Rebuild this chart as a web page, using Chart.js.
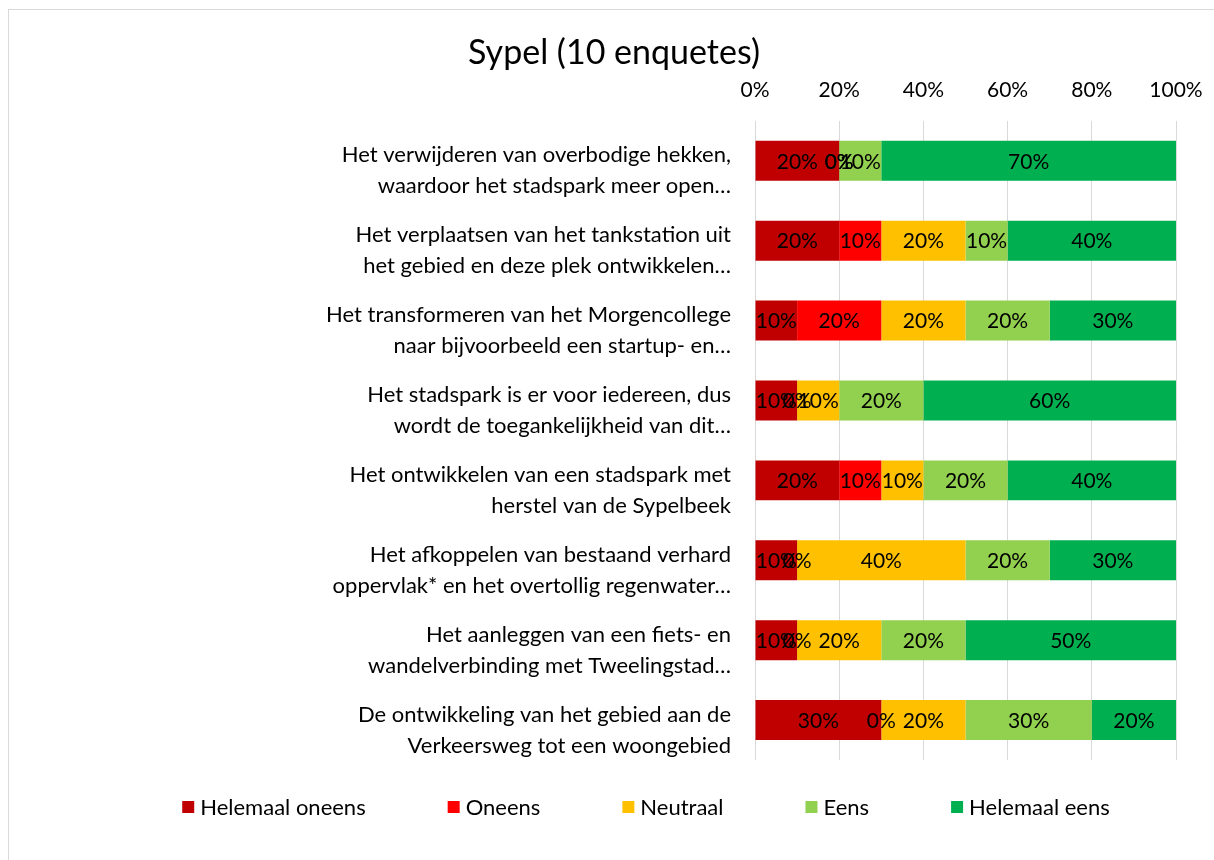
<!DOCTYPE html>
<html>
<head>
<meta charset="utf-8">
<script src="https://cdn.jsdelivr.net/npm/chart.js@4/dist/chart.umd.min.js"></script>
<style>
  html, body { margin: 0; padding: 0; background: #fff; }
  #frame { position: absolute; left: 8px; top: 9px; width: 1300px; height: 900px; border: 1px solid #d9d9d9; }
  #wrap { position: absolute; left: 0; top: 0; width: 1214px; height: 860px; }
</style>
</head>
<body>
<div id="frame"></div>
<div id="wrap"><canvas id="chart"></canvas></div>
<script>
const categories = [
  ['Het verwijderen van overbodige hekken,', 'waardoor het stadspark meer open…'],
  ['Het verplaatsen van het tankstation uit', 'het gebied en deze plek ontwikkelen…'],
  ['Het transformeren van het Morgencollege', 'naar bijvoorbeeld een startup- en…'],
  ['Het stadspark is er voor iedereen, dus', 'wordt de toegankelijkheid van dit…'],
  ['Het ontwikkelen van een stadspark met', 'herstel van de Sypelbeek'],
  ['Het afkoppelen van bestaand verhard', 'oppervlak* en het overtollig regenwater…'],
  ['Het aanleggen van een fiets- en', 'wandelverbinding met Tweelingstad…'],
  ['De ontwikkeling van het gebied aan de', 'Verkeersweg tot een woongebied']
];
const seriesNames = ['Helemaal oneens', 'Oneens', 'Neutraal', 'Eens', 'Helemaal eens'];
const seriesColors = ['#C00000', '#FF0000', '#FFC000', '#92D050', '#00B050'];
const helemaalOneens = [20, 20, 10, 10, 20, 10, 10, 30];
const oneens         = [0, 10, 20, 0, 10, 0, 0, 0];
const neutraal       = [0, 20, 20, 10, 10, 40, 20, 20];
const eens           = [10, 10, 20, 20, 20, 20, 20, 30];
const helemaalEens   = [70, 40, 30, 60, 40, 30, 50, 20];
const xTicks = [0, 20, 40, 60, 80, 100];

const FONT = 'Lato, "Liberation Sans", sans-serif';

const seriesValues = [helemaalOneens, oneens, neutraal, eens, helemaalEens];
const datasets = seriesNames.map((name, i) => ({
  label: name,
  data: seriesValues[i],
  backgroundColor: seriesColors[i],
  borderWidth: 0,
  barPercentage: 0.5,
  categoryPercentage: 1
}));

// data labels in the middle of each segment
const segmentLabels = {
  id: 'segmentLabels',
  afterDatasetsDraw(chart) {
    const ctx = chart.ctx;
    ctx.save();
    ctx.font = '21px ' + FONT;
    ctx.fillStyle = '#000';
    ctx.textAlign = 'center';
    ctx.textBaseline = 'middle';
    chart.data.datasets.forEach((ds, di) => {
      chart.getDatasetMeta(di).data.forEach((bar, i) => {
        const v = ds.data[i];
        if (v === null || v === undefined) return;
        const c = bar.getCenterPoint();
        ctx.fillText(v + '%', c.x, c.y + 1);
      });
    });
    ctx.restore();
  }
};

// legend row with wide gaps like the original
const wideLegend = {
  id: 'wideLegend',
  afterDraw(chart) {
    const ctx = chart.ctx;
    const box = 12, gapText = 6, gap = 82, centerX = 646, y = 807;
    ctx.save();
    ctx.font = '22px ' + FONT;
    ctx.textBaseline = 'middle';
    const widths = chart.data.datasets.map(ds => box + gapText + ctx.measureText(ds.label).width);
    const total = widths.reduce((a, b) => a + b, 0) + gap * (widths.length - 1);
    let x = centerX - total / 2;
    chart.data.datasets.forEach((ds, i) => {
      ctx.fillStyle = ds.backgroundColor;
      ctx.fillRect(x, y - box / 2, box, box);
      ctx.fillStyle = '#000';
      ctx.fillText(ds.label, x + box + gapText, y + 1);
      x += widths[i] + gap;
    });
    ctx.restore();
  }
};

new Chart(document.getElementById('chart').getContext('2d'), {
  type: 'bar',
  data: { labels: categories, datasets: datasets },
  options: {
    indexAxis: 'y',
    responsive: true,
    maintainAspectRatio: false,
    animation: false,
    layout: { padding: { left: 52, right: 38, top: 0, bottom: 100 } },
    scales: {
      x: {
        position: 'top',
        stacked: true,
        min: 0,
        max: 100,
        afterBuildTicks: (scale) => { scale.ticks = xTicks.map(v => ({ value: v })); },
        afterFit: (scale) => { scale.height = 40; scale.paddingRight = 0; },
        grid: { color: '#d9d9d9', lineWidth: 1, drawTicks: false },
        border: { display: false },
        ticks: { padding: 18, color: '#000', font: { family: FONT, size: 21 }, callback: (v) => v + '%' }
      },
      y: {
        stacked: true,
        afterFit: (scale) => { scale.width = 703; },
        grid: { display: false, drawTicks: false },
        border: { display: false },
        ticks: { padding: 24, labelOffset: 10, color: '#000', font: { family: FONT, size: 22, lineHeight: 1.4 } }
      }
    },
    plugins: {
      title: {
        display: true,
        text: 'Sypel (10 enquetes)',
        color: '#000',
        font: { family: FONT, size: 34, weight: 'normal' },
        padding: { top: 33, bottom: 7 }
      },
      legend: { display: false },
      tooltip: { enabled: false }
    }
  },
  plugins: [segmentLabels, wideLegend]
});
</script>
</body>
</html>
